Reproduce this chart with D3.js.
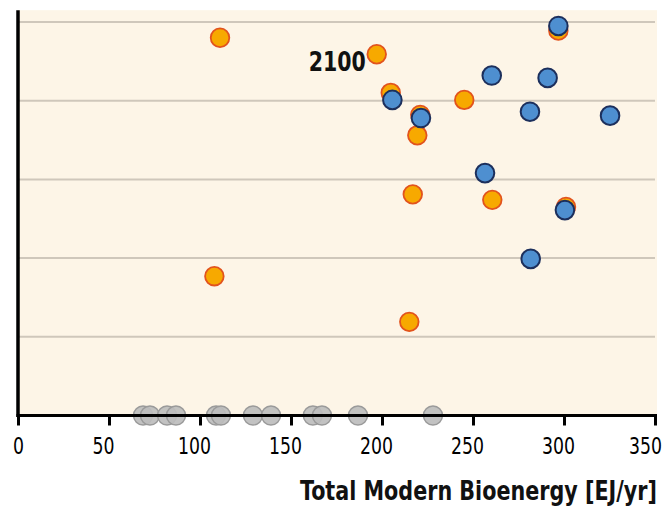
<!DOCTYPE html>
<html>
<head>
<meta charset="utf-8">
<script src="https://cdn.jsdelivr.net/npm/d3@7"></script>
<style>
  html, body { margin: 0; padding: 0; background: #ffffff; }
  svg { display: block; }
</style>
</head>
<body>
<svg id="chart" width="668" height="509"></svg>
<script>
// ---- Data ----
const xTicks = [0, 50, 100, 150, 200, 250, 300, 350];
const gridLevels = [1, 2, 3, 4, 5];

// Orange series (2100 values)
const orangeX = [111.0, 197.1, 204.8, 221.0, 219.4, 245.2, 296.9, 216.9, 260.6, 301.1, 107.9, 215.0];
const orangeY = [4.80, 4.59, 4.10, 3.82, 3.56, 4.01, 4.89, 2.81, 2.74, 2.65, 1.77, 1.19];

// Blue series
const blueX = [296.9, 260.3, 291.0, 205.7, 221.4, 281.3, 325.3, 256.6, 300.5, 281.7];
const blueY = [4.95, 4.32, 4.29, 4.01, 3.78, 3.86, 3.81, 3.08, 2.61, 1.99];

// Gray series (on the x axis)
const grayX = [68.7, 72.5, 81.9, 86.8, 108.8, 111.5, 129.1, 139.0, 162.0, 167.0, 186.8, 228.0];

const annotation = "2100";
const xTitle = "Total Modern Bioenergy [EJ/yr]";

// ---- Layout ----
const svg = d3.select("#chart");
const x = d3.scaleLinear().domain([0, 350]).range([18, 655]);
const y = d3.scaleLinear().domain([0, 5]).range([415.5, 22]);
const font = "'DejaVu Sans Condensed', 'DejaVu Sans', sans-serif";

// Background
svg.append("rect")
  .attr("x", x(0)).attr("y", y(5.15))
  .attr("width", 657 - x(0)).attr("height", y(0) - y(5.15))
  .attr("fill", "#fdf5e7");

// Gridlines
svg.append("g").selectAll("line").data(gridLevels).join("line")
  .attr("x1", x(0)).attr("x2", x(350))
  .attr("y1", d => y(d)).attr("y2", d => y(d))
  .attr("stroke", "#cfc7bb").attr("stroke-width", 2);

// Gray points
svg.append("g").selectAll("circle").data(grayX).join("circle")
  .attr("cx", d => x(d)).attr("cy", y(0))
  .attr("r", 9.5)
  .attr("fill", "#bdbdbd").attr("fill-opacity", 0.92)
  .attr("stroke", "#9a9a9a").attr("stroke-width", 1.5);

// X axis
const xAxis = d3.axisBottom(x).tickValues(xTicks).tickSize(10).tickSizeOuter(0).tickFormat(d3.format("d"));
const gx = svg.append("g").attr("transform", `translate(0,${y(0)})`).call(xAxis);
gx.select(".domain").attr("stroke", "#000").attr("stroke-width", 3)
  .attr("d", `M${x(0) - 1.5},0H${657}`);
gx.selectAll(".tick line").attr("stroke", "#000").attr("stroke-width", 3);
gx.selectAll(".tick text")
  .attr("font-family", font).attr("font-size", 23.5).attr("fill", "#000")
  .attr("y", 22).attr("dy", "0.71em")
  .attr("x", d => d === 0 ? 0 : (d === 350 ? -10 : -6))
  .attr("textLength", d => String(d).length * 11)
  .attr("lengthAdjust", "spacingAndGlyphs");

// Y axis line
svg.append("line")
  .attr("x1", x(0)).attr("x2", x(0))
  .attr("y1", y(5.15)).attr("y2", y(0) + 1.5)
  .attr("stroke", "#000").attr("stroke-width", 3.5);

// Orange points
const orange = orangeX.map((v, i) => ({ x: v, y: orangeY[i] }));
svg.append("g").selectAll("circle").data(orange).join("circle")
  .attr("cx", d => x(d.x)).attr("cy", d => y(d.y))
  .attr("r", 9.3)
  .attr("fill", "#f7a900").attr("stroke", "#e2531d").attr("stroke-width", 1.8);

// Blue points
const blue = blueX.map((v, i) => ({ x: v, y: blueY[i] }));
svg.append("g").selectAll("circle").data(blue).join("circle")
  .attr("cx", d => x(d.x)).attr("cy", d => y(d.y))
  .attr("r", 9.3)
  .attr("fill", "#4e8fd0").attr("stroke", "#1c2f5c").attr("stroke-width", 2);

// Annotation
svg.append("text")
  .attr("x", x(orangeX[1]) - 11).attr("y", y(orangeY[1]) + 17)
  .attr("text-anchor", "end")
  .attr("font-family", font).attr("font-weight", "bold").attr("font-size", 27)
  .attr("textLength", 57).attr("lengthAdjust", "spacingAndGlyphs")
  .attr("fill", "#111")
  .text(annotation);

// X title (condensed horizontally to the reference width)
const titleG = svg.append("g");
const titleT = titleG.append("text")
  .attr("x", 0).attr("y", 0)
  .attr("text-anchor", "end")
  .attr("font-family", font).attr("font-weight", "bold").attr("font-size", 26)
  .attr("fill", "#111")
  .text(xTitle);
const natural = titleT.node().getComputedTextLength() || 357;
titleG.attr("transform", `translate(657,500) scale(${Math.min(1, 357 / natural)},1)`);
</script>
</body>
</html>
